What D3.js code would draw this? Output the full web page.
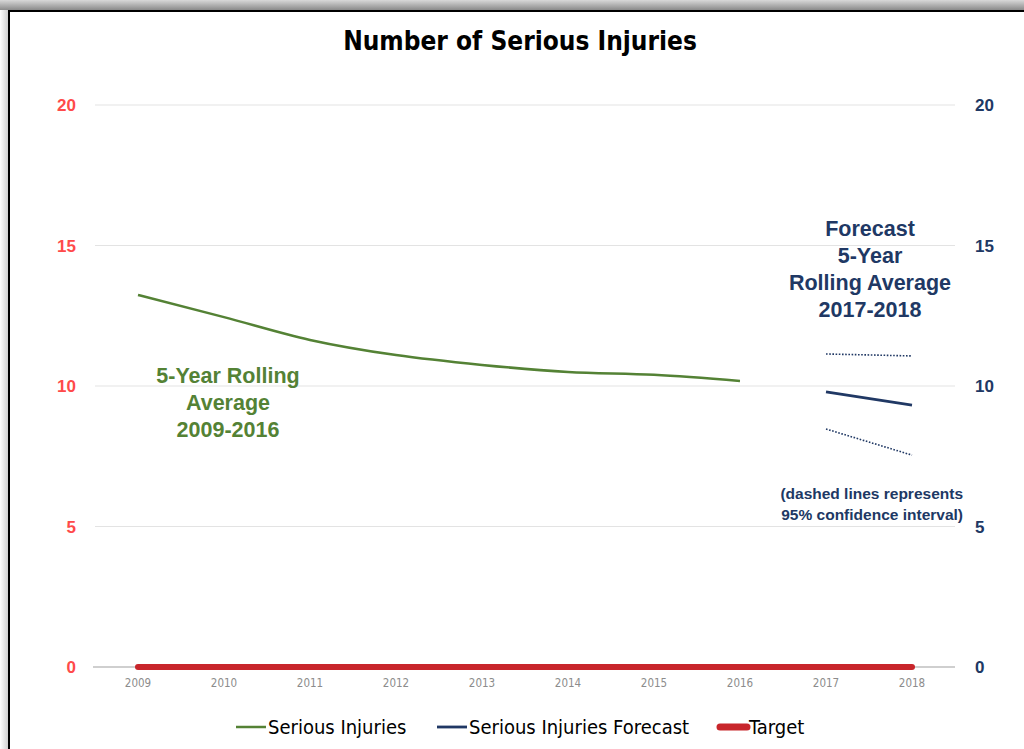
<!DOCTYPE html>
<html>
<head>
<meta charset="utf-8">
<script src="https://cdn.jsdelivr.net/npm/d3@7"></script>
<style>
  body { margin: 0; background: #fff; }
  svg { display: block; }
</style>
</head>
<body>
<svg id="chart" width="1024" height="749"></svg>
<script>
// chart data
const years = ["2009", "2010", "2011", "2012", "2013", "2014", "2015", "2016", "2017", "2018"];
const injuries = [13.24, 12.45, 11.64, 11.1, 10.75, 10.5, 10.4, 10.18];
const forecastYears = ["2017", "2018"];
const forecast = [9.79, 9.32];
const upperCI = [11.14, 11.07];
const lowerCI = [8.47, 7.54];
const target = [0, 0, 0, 0, 0, 0, 0, 0, 0, 0];
const yTicks = [0, 5, 10, 15, 20];

const svg = d3.select("#chart");
const narrow = "'DejaVu Sans Condensed', 'Liberation Sans Narrow', sans-serif";
const wide = "'Liberation Sans', Arial, sans-serif";

//Frame with shadow
const defs = svg.append("defs");
const gTop = defs.append("linearGradient").attr("id", "topShade").attr("x1", 0).attr("y1", 0).attr("x2", 0).attr("y2", 1);
gTop.append("stop").attr("offset", 0).attr("stop-color", "#d8d8d8");
gTop.append("stop").attr("offset", 1).attr("stop-color", "#8a8a8a");
const gLeft = defs.append("linearGradient").attr("id", "leftShade").attr("x1", 0).attr("y1", 0).attr("x2", 1).attr("y2", 0);
gLeft.append("stop").attr("offset", 0).attr("stop-color", "#ffffff");
gLeft.append("stop").attr("offset", 1).attr("stop-color", "#d0d0d0");
svg.append("rect").attr("x", 0).attr("y", 0).attr("width", 1024).attr("height", 10).attr("fill", "url(#topShade)");
svg.append("rect").attr("x", 0).attr("y", 10).attr("width", 8).attr("height", 739).attr("fill", "url(#leftShade)");
svg.append("line").attr("x1", 8).attr("x2", 1024).attr("y1", 11).attr("y2", 11).attr("stroke", "#000").attr("stroke-width", 2);
svg.append("line").attr("x1", 9).attr("x2", 9).attr("y1", 10).attr("y2", 749).attr("stroke", "#000").attr("stroke-width", 2);

//Scales
const x = d3.scaleBand().domain(years).range([95, 955]);
const xc = d => x(d) + x.bandwidth() / 2;
const y = d3.scaleLinear().domain([0, 20]).range([667, 105]);

//Title
svg.append("text")
    .attr("x", 520).attr("y", 50)
    .attr("text-anchor", "middle")
    .attr("font-family", narrow).attr("font-weight", "bold").attr("font-size", 26)
    .attr("fill", "#000")
    .text("Number of Serious Injuries");

//Gridlines
svg.append("g")
    .selectAll("line")
    .data(yTicks.filter(d => d > 0))
    .enter().append("line")
    .attr("x1", 95).attr("x2", 955)
    .attr("y1", d => y(d)).attr("y2", d => y(d))
    .attr("stroke", "#e3e3e3").attr("stroke-width", 1);
svg.append("line")
    .attr("x1", 93).attr("x2", 955).attr("y1", y(0)).attr("y2", y(0))
    .attr("stroke", "#bfbfbf").attr("stroke-width", 1.5);

//Left axis
const leftAxis = svg.append("g")
    .attr("transform", "translate(76,0)")
    .call(d3.axisLeft(y).tickValues(yTicks).tickSize(0).tickPadding(0));
leftAxis.select(".domain").remove();
leftAxis.selectAll("text")
    .attr("font-family", wide).attr("font-weight", "bold").attr("font-size", 17)
    .attr("fill", "#ff4a4a").attr("dy", "0.35em");

//Right axis
const rightAxis = svg.append("g")
    .attr("transform", "translate(975,0)")
    .call(d3.axisRight(y).tickValues(yTicks).tickSize(0).tickPadding(0));
rightAxis.select(".domain").remove();
rightAxis.selectAll("text")
    .attr("font-family", wide).attr("font-weight", "bold").attr("font-size", 17)
    .attr("fill", "#203864").attr("dy", "0.35em");

//Bottom axis
const bottomAxis = svg.append("g")
    .attr("transform", "translate(0," + y(0) + ")")
    .call(d3.axisBottom(x).tickSize(0).tickPadding(12));
bottomAxis.select(".domain").remove();
bottomAxis.selectAll("text")
    .attr("font-family", narrow).attr("font-size", 11.5)
    .attr("fill", "#8c8c8c");

//Lines
const line = d3.line().curve(d3.curveMonotoneX);

svg.append("path")
    .datum(target.map((v, i) => [xc(years[i]), y(v)]))
    .attr("fill", "none").attr("stroke", "#c8262b").attr("stroke-width", 6)
    .attr("stroke-linecap", "round")
    .attr("d", line);

svg.append("path")
    .datum(injuries.map((v, i) => [xc(years[i]), y(v)]))
    .attr("fill", "none").attr("stroke", "#548235").attr("stroke-width", 2.5)
    .attr("d", line);

svg.append("path")
    .datum(forecast.map((v, i) => [xc(forecastYears[i]), y(v)]))
    .attr("fill", "none").attr("stroke", "#203864").attr("stroke-width", 2.8)
    .attr("d", line);

[upperCI, lowerCI].forEach(ci => {
    svg.append("path")
        .datum(ci.map((v, i) => [xc(forecastYears[i]), y(v)]))
        .attr("fill", "none").attr("stroke", "#203864").attr("stroke-width", 1.6)
        .attr("stroke-dasharray", "1.6,1.6")
        .attr("d", line);
});

//Annotations
function label(lines, xPos, yPos, lh, size, color, anchor) {
    const t = svg.append("text")
        .attr("x", xPos).attr("y", yPos)
        .attr("text-anchor", anchor)
        .attr("font-family", wide).attr("font-weight", "bold").attr("font-size", size)
        .attr("fill", color);
    lines.forEach((s, i) => t.append("tspan").attr("x", xPos).attr("dy", i === 0 ? 0 : lh).text(s));
}
label(["5-Year Rolling", "Average", "2009-2016"], 228, 383, 27, 21.5, "#548235", "middle");
label(["Forecast", "5-Year", "Rolling Average", "2017-2018"], 870, 236, 27, 21.5, "#203864", "middle");
label(["(dashed lines represents", "95% confidence interval)"], 963, 499, 21, 15.5, "#203864", "end");

//Legend
const legendItems = [
    {name: "Serious Injuries", color: "#548235", width: 2.5, x: 236},
    {name: "Serious Injuries Forecast", color: "#203864", width: 2.8, x: 437},
    {name: "Target", color: "#c8262b", width: 7, x: 717}
];
const legend = svg.append("g");
legend.selectAll("line")
    .data(legendItems)
    .enter().append("line")
    .attr("x1", d => d.x + (d.width > 5 ? 3 : 0)).attr("x2", d => d.x + (d.width > 5 ? 30 : 30))
    .attr("y1", 727).attr("y2", 727)
    .attr("stroke", d => d.color).attr("stroke-width", d => d.width)
    .attr("stroke-linecap", d => d.width > 5 ? "round" : "butt");
legend.selectAll("text")
    .data(legendItems)
    .enter().append("text")
    .attr("x", d => d.x + 32).attr("y", 734)
    .attr("font-family", narrow).attr("font-size", 20)
    .attr("fill", "#000")
    .text(d => d.name);
</script>
</body>
</html>
